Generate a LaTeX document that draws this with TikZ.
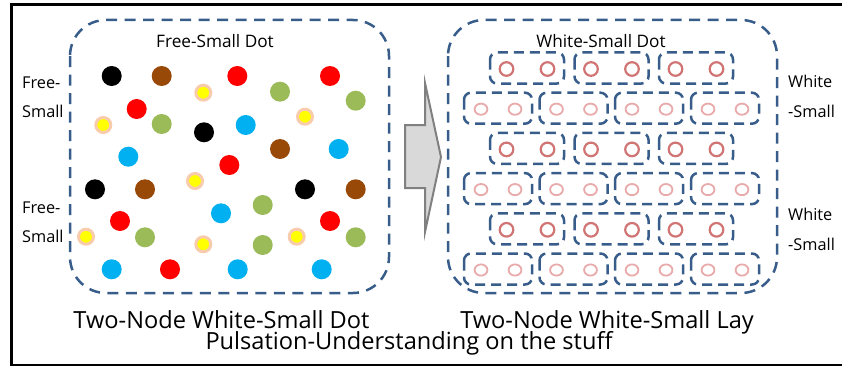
\documentclass[tikz,border=0pt]{standalone}
\usepackage{fontspec}
\setmainfont{Open Sans}
\definecolor{frameblue}{HTML}{385D8A}
\definecolor{dotbrown}{HTML}{984807}
\definecolor{dotred}{HTML}{FF0000}
\definecolor{dotgreen}{HTML}{9BBB59}
\definecolor{dotblue}{HTML}{00B0F0}
\definecolor{dotyellow}{HTML}{FFFF00}
\definecolor{halo}{HTML}{F8CBAD}
\definecolor{ringdark}{HTML}{D07474}
\definecolor{ringlight}{HTML}{E8AAAA}
\definecolor{arrowfill}{HTML}{D9D9D9}
\definecolor{arrowline}{HTML}{808080}
\tikzset{
  bigbox/.style={draw=frameblue, line width=2.5pt, dash pattern=on 11pt off 7.5pt, rounded corners=36pt},
  cellbox/.style={draw=frameblue, line width=2.5pt, dash pattern=on 10pt off 6pt, rounded corners=7pt},
  sidelabel/.style={anchor=base west, inner sep=0pt, font=\fontsize{16.3}{19}\selectfont},
  toplabel/.style={anchor=base, inner sep=0pt, font=\fontsize{17.2}{20}\selectfont},
  caption/.style={anchor=base, inner sep=0pt, font=\fontsize{23.6}{27}\selectfont},
  dot/.style={fill=#1, draw=none},
  ydot/.style={fill=dotyellow, draw=halo, line width=3pt},
  darkring/.style={draw=ringdark, line width=2.2pt},
  lightring/.style={draw=ringlight, line width=1.8pt},
}
\begin{document}
\begin{tikzpicture}[x=1pt, y=-1pt]
\useasboundingbox (0,0) rectangle (842,369);

% outer frame, open on the right
\draw[line width=2.8pt, line join=miter] (842,4.7) -- (11.5,4.7) -- (11.5,365) -- (842,365);

% the two dashed containers
\draw[bigbox] (70,20) rectangle (389,293);
\draw[bigbox] (448,20) rectangle (777,293);

% block arrow between the containers
\draw[fill=arrowfill, draw=arrowline, line width=2pt, line join=miter]
  (405,125) -- (425,125) -- (425,83) -- (441,157) -- (425,232) -- (425,188) -- (405,188) -- cycle;

% coloured dots
\foreach \x/\y/\c in {
  111.7/76/black, 161.7/76/dotbrown, 237.3/76/dotred, 330/76/dotred,
  280/91.7/dotgreen, 355.7/100.7/dotgreen, 136.7/109/dotred,
  161.7/124/dotgreen, 204/132.3/black, 245.7/125/dotblue,
  128.3/156.7/dotblue, 280/149/dotbrown, 338.7/149/dotblue, 229.3/165/dotred,
  95/189.3/black, 145/189.3/dotbrown, 305/189.3/black, 355.7/189.3/dotbrown,
  262.7/205/dotgreen, 221/213.3/dotblue, 120/221/dotred, 330/221/dotred,
  145/237.3/dotgreen, 262.7/245/dotgreen, 355.7/237.3/dotgreen,
  111.7/269.3/dotblue, 170/269.3/dotred, 237.7/269.3/dotblue, 321.7/269.3/dotblue}
  \fill[dot=\c] (\x,\y) circle (10pt);
\foreach \x/\y in {203.3/92.7, 103.3/125, 305/116.7, 195/181, 86/236.7,
  203.3/244.3, 296.7/236.7}
  \draw[ydot] (\x,\y) circle (7.5pt);

% paired rings in dashed cells: rows with three cells
\foreach \y in {68,148.4,228.8} {
  \foreach \cx in {527,611.5,696} {
    \draw[cellbox] (\cx-37,\y-15.5) rectangle (\cx+37,\y+15.5);
    \draw[darkring] (\cx-20.5,\y+1) circle (6.8pt);
    \draw[darkring] (\cx+20.5,\y+1) circle (6.8pt);
  }
}
% rows with four cells
\foreach \y in {108.2,188.6,269} {
  \foreach \cx in {498,573.5,649,725} {
    \draw[cellbox] (\cx-34,\y-15.5) rectangle (\cx+34,\y+15.5);
    \draw[lightring] (\cx-17,\y+1) ellipse (6.4pt and 5.6pt);
    \draw[lightring] (\cx+17,\y+1) ellipse (6.4pt and 5.6pt);
  }
}

% labels
\node[toplabel] (tl) at (215,47.7) {Free-Small Dot};
\node[toplabel] (tr) at (601,47.7) {White-Small Dot};
\node[sidelabel] (fa) at (22,88.3) {Free-};
\node[sidelabel] (fb) at (22,117.3) {Small};
\node[sidelabel] (fc) at (22,213.3) {Free-};
\node[sidelabel] (fd) at (22,242.3) {Small};
\node[sidelabel] (wa) at (788,87.3) {White};
\node[sidelabel] (wb) at (788,117.3) {-Small};
\node[sidelabel] (wc) at (788,220.7) {White};
\node[sidelabel] (wd) at (788,250.7) {-Small};
\node[caption] (cl) at (221.5,328.3) {Two-Node White-Small Dot};
\node[caption] (cr) at (607,328.3) {Two-Node White-Small Lay};
\node[caption] (cb) at (409,349) {Pulsation-Understanding on the stuff};
\end{tikzpicture}
\end{document}
